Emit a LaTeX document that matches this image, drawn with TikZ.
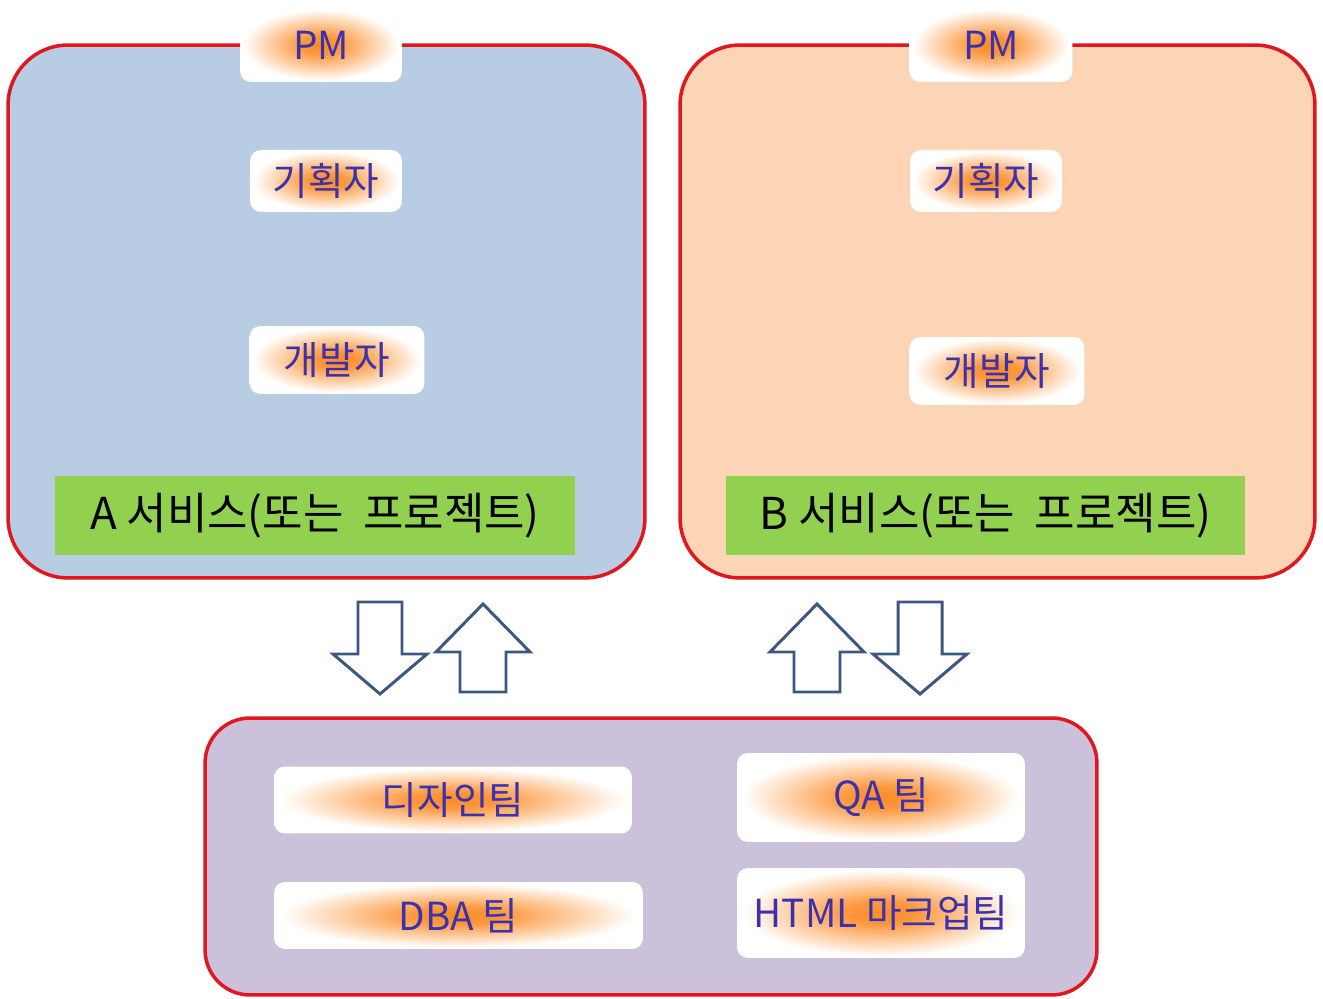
\documentclass[tikz,border=0pt]{standalone}
\usepackage{fontspec}
\setmainfont{Noto Sans CJK KR}
\usepackage{xcolor}
\usepackage{tikz}

\definecolor{boxred}{RGB}{226,22,30}
\definecolor{svcblue}{RGB}{184,204,228}
\definecolor{svcpeach}{RGB}{251,213,181}
\definecolor{teamlilac}{RGB}{204,193,218}
\definecolor{svcgreen}{RGB}{146,208,80}
\definecolor{glowor}{RGB}{252,140,40}
\definecolor{rolefg}{RGB}{62,50,172}
\definecolor{arrowblue}{RGB}{60,88,128}

\pgfdeclareradialshading{glow}{\pgfpoint{0bp}{0bp}}{color(0bp)=(glowor); color(6bp)=(glowor!90!white); color(15bp)=(glowor!45!white); color(24bp)=(white); color(50bp)=(white)}

\tikzset{
  groupbox/.style={draw=boxred, line width=2pt, inner sep=0pt},
  role/.style={shading=glow, rounded corners=0.22cm, inner sep=0pt, text=rolefg, font=\fontsize{22}{26}\selectfont},
  svclabel/.style={fill=svcgreen, inner sep=0pt, minimum width=10.4cm, minimum height=1.58cm, font=\fontsize{25}{30}\selectfont},
  blockarrow/.style={draw=arrowblue, line width=1.7pt, fill=white, line join=miter},
}

\begin{document}
\begin{tikzpicture}[x=0.02cm, y=-0.02cm]
\useasboundingbox (0,0) rectangle (1323,999);
% service groups and the shared team pool
\node[groupbox, fill=svcblue, rounded corners=1.2cm, minimum width=12.74cm, minimum height=10.66cm] (svcA) at (326.5,311.5) {};
\node[groupbox, fill=svcpeach, rounded corners=1.2cm, minimum width=12.7cm, minimum height=10.66cm] (svcB) at (997.5,311.5) {};
\node[groupbox, fill=teamlilac, rounded corners=0.9cm, minimum width=17.84cm, minimum height=5.54cm] (team) at (651,856.5) {};

% A service
\node[role, minimum width=3.24cm, minimum height=1.48cm] (pmA) at (321,45) {PM};
\node[role, minimum width=3.04cm, minimum height=1.24cm] (planA) at (326,181) {기획자};
\node[role, minimum width=3.5cm, minimum height=1.36cm] (devA) at (337,360) {개발자};
\node[svclabel] (nameA) at (315,515.5) {A 서비스(또는\ \ 프로젝트)};

% B service
\node[role, minimum width=3.26cm, minimum height=1.48cm] (pmB) at (991,45) {PM};
\node[role, minimum width=3.04cm, minimum height=1.24cm] (planB) at (986,181) {기획자};
\node[role, minimum width=3.5cm, minimum height=1.36cm] (devB) at (997,371) {개발자};
\node[svclabel] (nameB) at (985.5,515.5) {B 서비스(또는\ \ 프로젝트)};

% teams
\node[role, minimum width=7.16cm, minimum height=1.34cm] (design) at (453,800) {디자인팀};
\node[role, minimum width=7.38cm, minimum height=1.34cm] (dba) at (458.5,915.5) {DBA 팀};
\node[role, minimum width=5.76cm, minimum height=1.78cm] (qa) at (881,797.5) {QA 팀};
\node[role, minimum width=5.76cm, minimum height=1.8cm] (html) at (881,913) {HTML 마크업팀};

% exchange arrows
\foreach \x in {380,920}
  \draw[blockarrow, shift={(\x,602)}] (-22,0) -- (22,0) -- (22,52) -- (47,52) -- (0,92) -- (-47,52) -- (-22,52) -- cycle;
\foreach \x in {483,817}
  \draw[blockarrow, shift={(\x,692)}] (-23,0) -- (-23,-40) -- (-47,-40) -- (0,-88) -- (47,-40) -- (23,-40) -- (23,0) -- cycle;
\end{tikzpicture}
\end{document}
